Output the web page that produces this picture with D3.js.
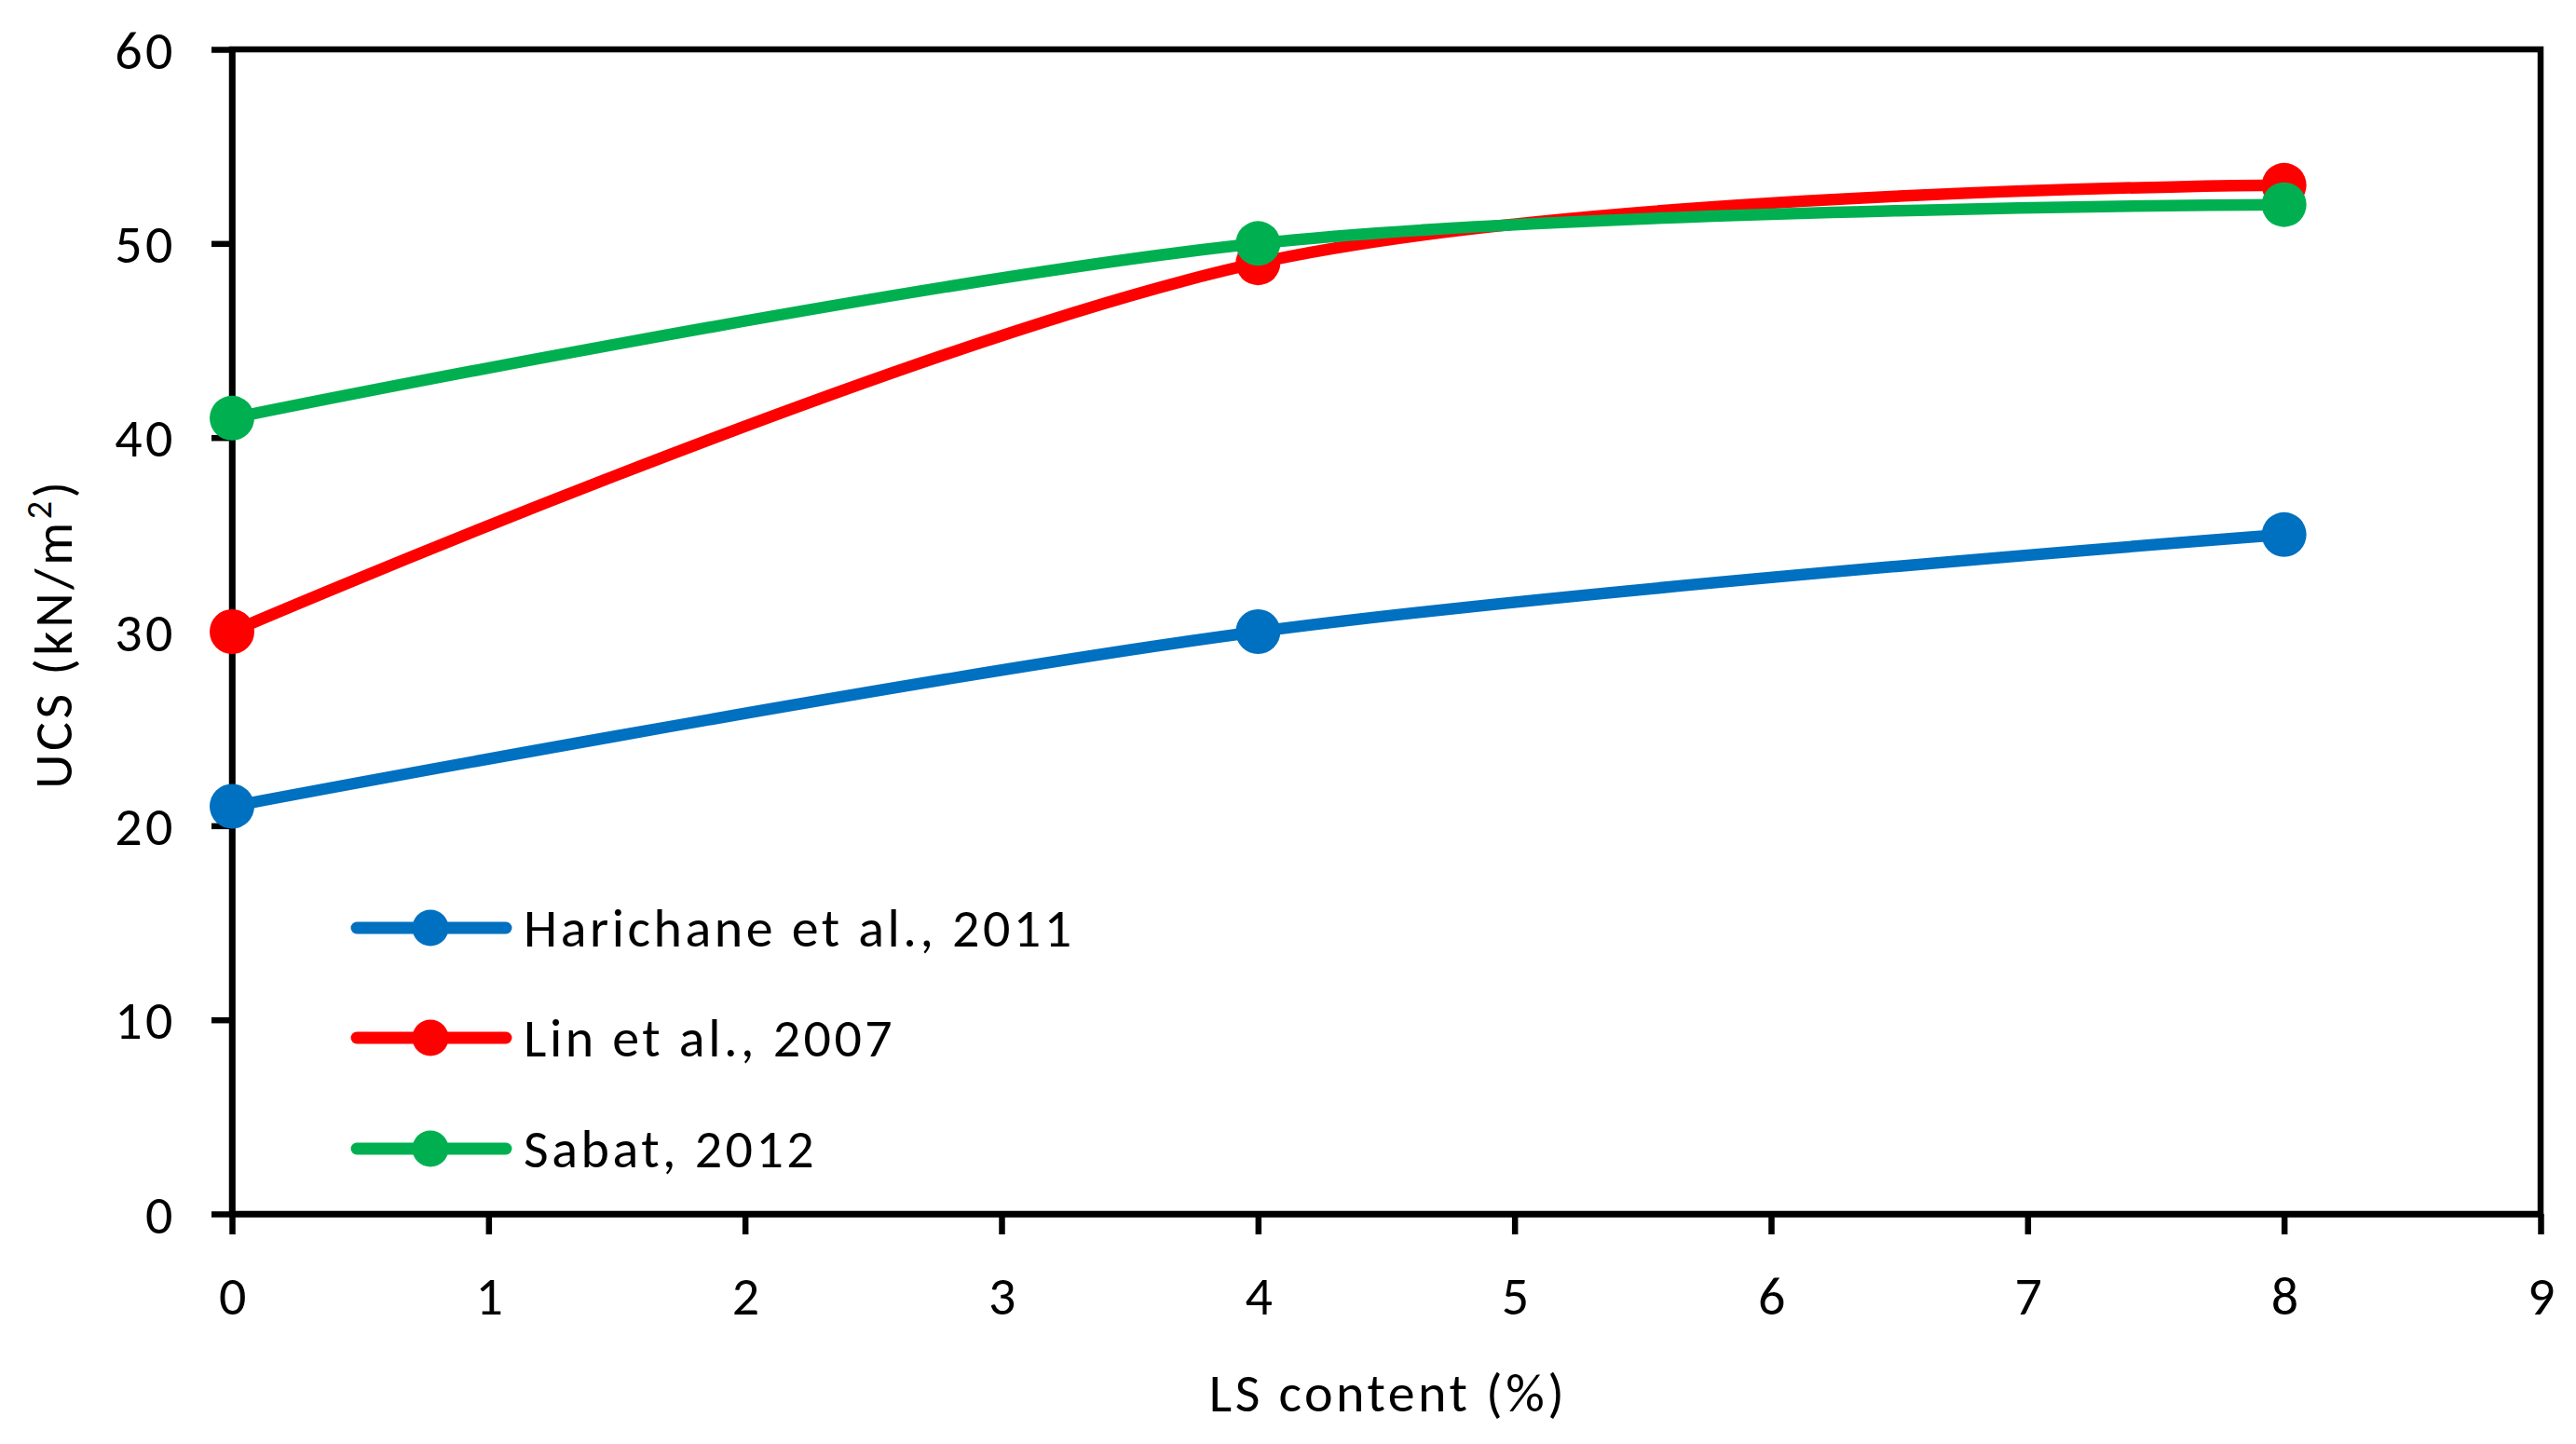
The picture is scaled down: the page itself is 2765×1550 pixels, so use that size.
<!DOCTYPE html>
<html>
<head>
<meta charset="utf-8">
<script src="https://cdn.jsdelivr.net/npm/d3@7"></script>
<style>
  html, body { margin: 0; padding: 0; background: #fff; }
  svg { display: block; }
  text { font-family: Carlito, Calibri, Lato, "Liberation Sans", sans-serif; fill: #000; letter-spacing: 3.5px; }
</style>
</head>
<body>
<svg id="chart" width="2765" height="1550"></svg>
<script>
// ---- data ----
const xValues = [0, 4, 8];
const seriesNames = ["Harichane et al., 2011", "Lin et al., 2007", "Sabat, 2012"];
const harichane = [21, 30, 35];
const lin = [30, 49, 53];
const sabat = [41, 50, 52];
const seriesColors = ["#0070C0", "#FF0000", "#00B050"];
const xTicks = [0, 1, 2, 3, 4, 5, 6, 7, 8, 9];
const yTicks = [0, 10, 20, 30, 40, 50, 60];
const xTitle = "LS content (%)";
const yTitle = "UCS (kN/m";

// ---- layout ----
const W = 2765, H = 1550;
const plot = { left: 249, right: 2727, top: 53, bottom: 1303 };
const FONT = 58;

const svg = d3.select("#chart");
const x = d3.scaleLinear().domain([0, 9]).range([plot.left, plot.right]);
const y = d3.scaleLinear().domain([0, 60]).range([plot.bottom, plot.top]);

// frame
svg.append("rect")
  .attr("x", plot.left).attr("y", plot.top)
  .attr("width", plot.right - plot.left).attr("height", plot.bottom - plot.top)
  .attr("fill", "none").attr("stroke", "#000").attr("stroke-width", 6.5);

// x axis
const gx = svg.append("g").attr("transform", `translate(0,${plot.bottom})`)
  .call(d3.axisBottom(x).tickValues(xTicks).tickSize(22).tickSizeOuter(0).tickFormat(d3.format("d")));
gx.select(".domain").attr("stroke", "#000").attr("stroke-width", 6.5);
gx.selectAll(".tick line").attr("stroke", "#000").attr("stroke-width", 6.5);
gx.selectAll(".tick text").attr("x", 2).attr("y", 108).attr("dy", 0)
  .style("font-size", FONT + "px").attr("fill", "#000");

// y axis
const gy = svg.append("g").attr("transform", `translate(${plot.left},0)`)
  .call(d3.axisLeft(y).tickValues(yTicks).tickSize(22).tickSizeOuter(0).tickFormat(d3.format("d")));
gy.select(".domain").attr("stroke", "#000").attr("stroke-width", 6.5);
gy.selectAll(".tick line").attr("stroke", "#000").attr("stroke-width", 6.5);
gy.selectAll(".tick text").attr("x", -60).attr("dy", "0.35em")
  .style("font-size", FONT + "px").attr("fill", "#000");

// axis titles
svg.append("text")
  .attr("x", (plot.left + plot.right) / 2 + 2).attr("y", 1515)
  .attr("text-anchor", "middle").style("font-size", FONT + "px")
  .text(xTitle);

const yt = svg.append("text")
  .attr("transform", `translate(77,${(plot.top + plot.bottom) / 2 + 2}) rotate(-90)`)
  .attr("text-anchor", "middle").style("font-size", FONT + "px");
yt.append("tspan").text(yTitle);
yt.append("tspan").attr("dy", -22).style("font-size", "38px").text("2");
yt.append("tspan").attr("dy", 22).text(")");

// series
const allSeries = [harichane, lin, sabat];
const line = d3.line()
  .x((d, i) => x(xValues[i]))
  .y(d => y(d))
  .curve(d3.curveCardinal.tension(0));

allSeries.forEach((vals, si) => {
  const g = svg.append("g");
  g.append("path").datum(vals)
    .attr("d", line)
    .attr("fill", "none")
    .attr("stroke", seriesColors[si])
    .attr("stroke-width", 12.5)
    .attr("stroke-linejoin", "round")
    .attr("stroke-linecap", "round");
  g.selectAll("circle").data(vals).enter().append("circle")
    .attr("cx", (d, i) => x(xValues[i]))
    .attr("cy", d => y(d))
    .attr("r", 24)
    .attr("fill", seriesColors[si]);
});

// legend
const legendRows = [996, 1114, 1233];
seriesNames.forEach((name, si) => {
  const ly = legendRows[si];
  const g = svg.append("g");
  g.append("line")
    .attr("x1", 383).attr("x2", 543).attr("y1", ly).attr("y2", ly)
    .attr("stroke", seriesColors[si]).attr("stroke-width", 13)
    .attr("stroke-linecap", "round");
  g.append("circle").attr("cx", 462).attr("cy", ly).attr("r", 19.5)
    .attr("fill", seriesColors[si]);
  g.append("text").attr("x", 562).attr("y", ly + 20)
    .style("font-size", FONT + "px").text(name);
});
</script>
</body>
</html>
